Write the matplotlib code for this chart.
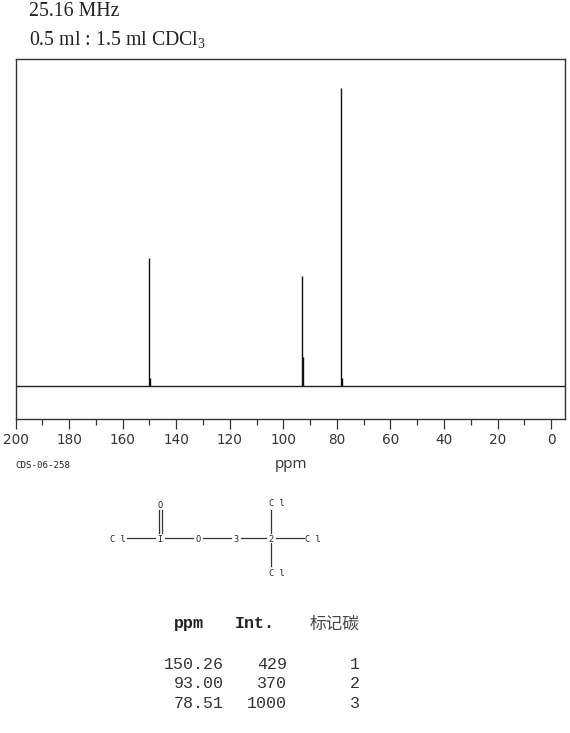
import matplotlib
matplotlib.use('Agg')
import matplotlib.pyplot as plt
import numpy as np

plt.rcParams['mathtext.fontset'] = 'custom'
plt.rcParams['mathtext.rm'] = 'Liberation Serif'
plt.rcParams['mathtext.default'] = 'rm'

peak_ppm = [150.26, 93.00, 78.51]
peak_int = [429, 370, 1000]
carbon = [1, 2, 3]

# little shoulders at the foot of each peak
side_ppm = [149.9, 92.8, 78.1]
side_int = [25, 97, 25]

major_ticks = np.arange(0, 201, 20)
minor_ticks = np.arange(10, 200, 20)

# structure in picture pixels
bonds_x = [(127, 155), (165, 193), (203, 231), (241, 266), (276, 304), (271, 271), (271, 271)]
bonds_y = [(538, 538), (538, 538), (538, 538), (538, 538), (538, 538), (510, 533), (543, 566)]
double_x = [(158.5, 158.5), (162, 162)]
double_y = [(510, 533), (510, 533)]
atom_labels = ['C l', 'I', 'O', '3', '2', 'C l', 'C l', 'C l', 'O']
atom_x = [118, 160, 198, 236, 271, 277, 313, 277, 160]
atom_y = [539, 539, 539, 539, 539, 504, 539, 573, 505]

col_ppm = ['150.26', '93.00', '78.51']
col_int = ['429', '370', '1000']
row_y = [669, 688, 708]

fig = plt.figure(figsize=(5.70, 7.33), dpi=100)
ax = fig.add_axes([15.5 / 570, 1 - 419 / 733, (565 - 15.5) / 570, (419 - 59) / 733])

ax.axhline(0, color='#222222', lw=1.0)
ax.vlines(peak_ppm, 0, peak_int, color='#111111', lw=1.0)
ax.vlines(side_ppm, 0, side_int, color='#111111', lw=1.0)

ax.set_xlim(200, -5.2)
ax.set_ylim(-111, 1097)
ax.set_yticks([])
ax.set_xticks(major_ticks)
ax.set_xticks(minor_ticks, minor=True)
ax.tick_params(axis='x', which='major', length=7.5, width=0.9, color='#333333', pad=2.5,
               labelsize=9.8, labelcolor='#333333')
ax.tick_params(axis='x', which='minor', length=4, width=0.9, color='#333333')
for s in ax.spines.values():
    s.set_color('#333333')
    s.set_linewidth(1.0)

ax2 = fig.add_axes([0, 0, 1, 1])
ax2.set_xlim(0, 570)
ax2.set_ylim(733, 0)
ax2.axis('off')
ax2.patch.set_alpha(0)

ax2.text(29, 16, '25.16 MHz', family='Liberation Serif', fontsize=14.3, color='#222222', va='baseline')
ax2.text(29, 45, '0.5 ml : 1.5 ml CDCl$_3$', family='Liberation Serif', fontsize=14.3, color='#222222', va='baseline')

ax2.text(15, 466, 'CDS-06-258', family='DejaVu Sans Mono', fontsize=6.6, color='#222222', va='center')
ax2.text(291, 465, 'ppm', family='Open Sans', fontsize=11, color='#333333', va='center', ha='center')

for xs, ys in zip(bonds_x + double_x, bonds_y + double_y):
    ax2.plot(xs, ys, color='#333333', lw=0.9)
for t, x, y in zip(atom_labels, atom_x, atom_y):
    ax2.text(x, y, t, family='DejaVu Sans Mono', fontsize=6.2, color='#222222', ha='center', va='center')

ax2.text(204, 628, 'ppm', family='Liberation Mono', weight='bold', fontsize=12, color='#222222', ha='right', va='baseline')
ax2.text(275, 628, 'Int.', family='Liberation Mono', weight='bold', fontsize=12, color='#222222', ha='right', va='baseline')
ax2.text(360, 629, '标记碳', family='Noto Sans CJK SC', fontsize=12, color='#444444', ha='right', va='baseline')
for a, b, c, y in zip(col_ppm, col_int, carbon, row_y):
    ax2.text(224, y, a, family='Liberation Mono', fontsize=12, color='#333333', ha='right', va='baseline')
    ax2.text(287, y, b, family='Liberation Mono', fontsize=12, color='#333333', ha='right', va='baseline')
    ax2.text(360, y, str(c), family='Liberation Mono', fontsize=12, color='#333333', ha='right', va='baseline')

fig.savefig('out.png', dpi=100)
